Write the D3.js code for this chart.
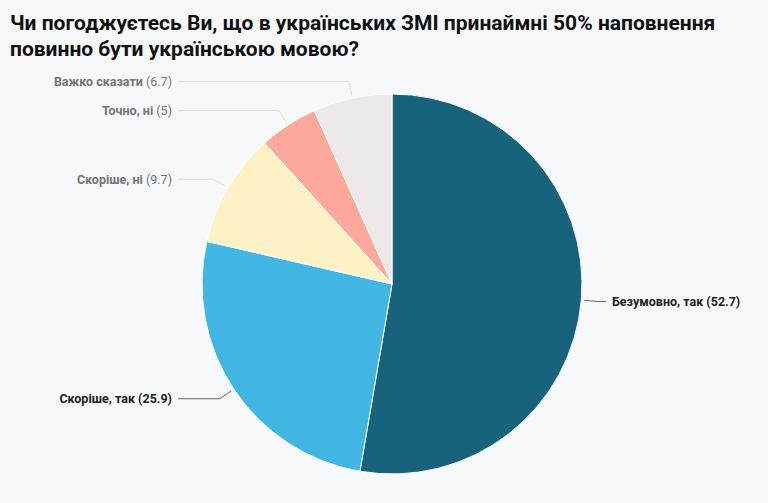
<!DOCTYPE html>
<html>
<head>
<meta charset="utf-8">
<script src="https://cdn.jsdelivr.net/npm/d3@7"></script>
<style>
  body { margin: 0; background: #f7f8fa; }
  svg { display: block; font-family: Roboto, sans-serif; }
</style>
</head>
<body>
<div id="chart"></div>
<script>
const categories = ["Безумовно, так", "Скоріше, так", "Скоріше, ні", "Точно, ні", "Важко сказати"];
const values = [52.7, 25.9, 9.7, 5, 6.7];
const colors = ["#17637c", "#41b6e3", "#fdf1c6", "#fca89b", "#ede9e8"];
const strongLabel = [true, true, false, false, false];
const titleLines = [
    "Чи погоджуєтесь Ви, що в українських ЗМІ принаймні 50% наповнення",
    "повинно бути українською мовою?"
];

const svgWidth = 768;
const svgHeight = 503;
const cx = 392, cy = 284;
const radius = 190;

const svg = d3.select("#chart")
    .append("svg")
    .attr("width", svgWidth)
    .attr("height", svgHeight);

svg.append("rect")
    .attr("width", svgWidth)
    .attr("height", svgHeight)
    .attr("fill", "#f7f8fa");

// Title
svg.append("g")
    .selectAll("text")
    .data(titleLines)
    .join("text")
    .attr("x", 10)
    .attr("y", (_d, i) => 30 + i * 26)
    .attr("font-size", 21)
    .attr("font-weight", 700)
    .attr("fill", "#111")
    .text(d => d);

const data = categories.map((c, i) => ({ name: c, value: values[i], color: colors[i], strong: strongLabel[i] }));

const pie = d3.pie()
    .sort(null)
    .value(d => d.value);

const arcs = pie(data);

const arc = d3.arc()
    .innerRadius(0)
    .outerRadius(radius);

const g = svg.append("g")
    .attr("transform", `translate(${cx},${cy})`);

// Slices
g.selectAll("path")
    .data(arcs)
    .join("path")
    .attr("d", arc)
    .attr("fill", d => d.data.color)
    .attr("stroke", "#fff")
    .attr("stroke-width", 1);

// Leader lines
const lineStart = d3.arc().innerRadius(radius + 3).outerRadius(radius + 3);
const lineElbow = d3.arc().innerRadius(radius + 17).outerRadius(radius + 17);
const labelX = 214;

function side(d) {
    return (d.startAngle + d.endAngle) / 2 < Math.PI ? 1 : -1;
}

g.selectAll("polyline")
    .data(arcs)
    .join("polyline")
    .attr("points", d => {
        const a = lineStart.centroid(d);
        const b = lineElbow.centroid(d);
        return [a, b, [side(d) * labelX, b[1]]];
    })
    .attr("fill", "none")
    .attr("stroke", d => d.data.strong ? "#666" : "#ddd")
    .attr("stroke-width", 1);

// Labels
const labels = g.selectAll("text.label")
    .data(arcs)
    .join("text")
    .attr("class", "label")
    .attr("x", d => side(d) * (labelX + 6))
    .attr("y", d => lineElbow.centroid(d)[1])
    .attr("dy", "0.35em")
    .attr("text-anchor", d => side(d) > 0 ? "start" : "end")
    .attr("font-size", 12.5)
    .attr("fill", d => d.data.strong ? "#222" : "#747474");

labels.append("tspan")
    .attr("font-weight", 700)
    .text(d => d.data.name + " ");

labels.append("tspan")
    .attr("font-weight", d => d.data.strong ? 700 : 400)
    .text(d => `(${d.data.value})`);
</script>
</body>
</html>
